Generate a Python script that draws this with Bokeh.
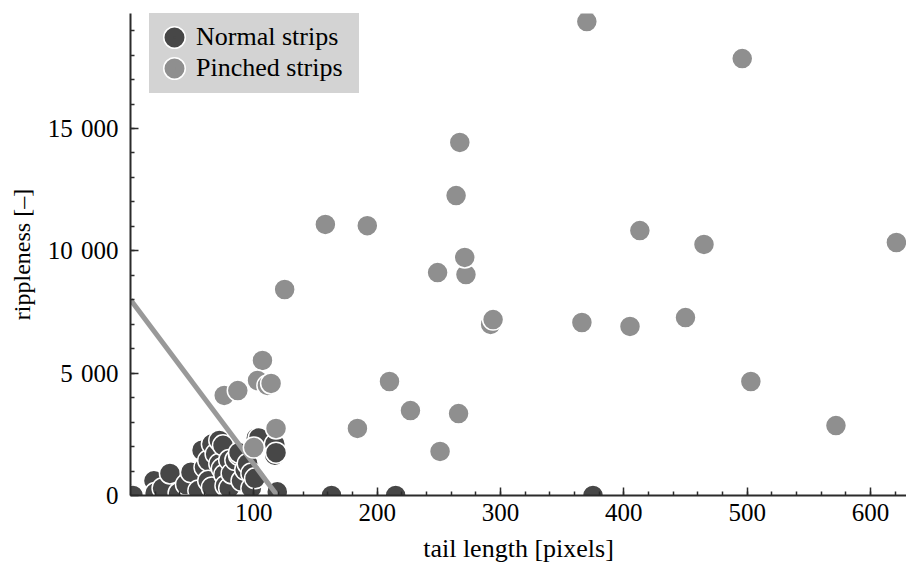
import numpy as np
from bokeh.plotting import figure
from bokeh.models import (ColumnDataSource, Range1d, FixedTicker, CustomJSTickFormatter,
                          Legend, LegendItem)
from bokeh.embed import file_html
from bokeh.resources import INLINE

# ---- data ----
normal_x = [0, 2, 19, 20, 26, 32, 39, 45, 49, 55, 58, 60, 63, 63, 66, 66, 69, 72, 72, 74,
            75, 76, 77, 80, 80, 82, 85, 88, 88, 90, 93, 95, 98, 98, 101, 102, 104, 117,
            117, 118, 119, 163, 215, 375]
normal_y = [50, 0, 600, 100, 300, 900, 100, 450, 950, 200, 1850, 1150, 1430, 600, 2100, 330,
            1700, 2250, 1300, 1100, 2050, 850, 400, 1450, 300, 900, 1450, 1650, 1750, 600,
            1050, 1300, 900, 300, 700, 2350, 2350, 2100, 1650, 1750, 150, 0, 0, 0]

pinched_x = [370, 496, 267, 264, 158, 192, 413, 465, 621, 272, 271, 249, 125, 292, 294,
             366, 405, 450, 210, 503, 184, 227, 266, 251, 572,
             76, 87, 107, 103, 111, 114, 118, 100]
pinched_y = [19370, 17860, 14430, 12260, 11080, 11030, 10830, 10260, 10340, 9030, 9730, 9110,
             8420, 6990, 7190, 7070, 6910, 7270, 4660, 4660, 2740, 3470, 3350, 1800, 2860,
             4090, 4290, 5520, 4700, 4500, 4580, 2740, 1960]

line_x = [0, 119]
line_y = [8000, 0]

x_major = [100, 200, 300, 400, 500, 600]
x_minor = [v for v in range(20, 640, 20)]
y_major = [0, 5000, 10000, 15000]
y_minor = [v for v in range(1000, 20000, 1000)]

dark = "#474747"
light = "#8f8f8f"
line_col = "#999999"
FONT = "Liberation Serif"

p = figure(width=906, height=577, output_backend="svg", toolbar_location=None,
           x_range=Range1d(0, 629.2), y_range=Range1d(0, 19700),
           min_border_left=130, min_border_right=0, min_border_top=13, min_border_bottom=82)
p.outline_line_color = None
p.xgrid.visible = False
p.ygrid.visible = False
p.background_fill_color = "white"
p.border_fill_color = "white"

src_n = ColumnDataSource(dict(x=normal_x, y=normal_y))
src_p = ColumnDataSource(dict(x=pinched_x, y=pinched_y))

r_n = p.scatter("x", "y", source=src_n, size=21, fill_color=dark, line_color="white",
                line_width=1.5)
p.line(line_x, line_y, line_color=line_col, line_width=5)
r_p = p.scatter("x", "y", source=src_p, size=21, fill_color=light, line_color="white",
                line_width=1.5)

# legend-only swatches (not drawn in the plot: NaN positions), sized like the reference
nan_src = ColumnDataSource(dict(x=np.array([np.nan]), y=np.array([np.nan])))
ring_n = p.scatter("x", "y", source=nan_src, fill_color="white", line_color="white", line_width=11.8)
core_n = p.scatter("x", "y", source=nan_src, fill_color=dark, line_color=dark, line_width=8.8)
ring_p = p.scatter("x", "y", source=nan_src, fill_color="white", line_color="white", line_width=11.8)
core_p = p.scatter("x", "y", source=nan_src, fill_color=light, line_color=light, line_width=8.8)

fmt = CustomJSTickFormatter(code="return tick.toFixed(0).replace(/\\B(?=(\\d{3})+(?!\\d))/g, '\\u2004');")

for ax in (p.xaxis[0], p.yaxis[0]):
    ax.axis_line_color = "#2b2b2b"
    ax.axis_line_width = 2
    ax.major_tick_line_color = "#2b2b2b"
    ax.minor_tick_line_color = "#2b2b2b"
    ax.major_tick_line_width = 1.5
    ax.minor_tick_line_width = 1.5
    ax.major_tick_in = 8
    ax.major_tick_out = 0
    ax.minor_tick_in = 4
    ax.minor_tick_out = 0
    ax.major_label_text_font = FONT
    ax.major_label_text_font_size = "25px"
    ax.major_label_text_color = "black"
    ax.axis_label_text_font = FONT
    ax.axis_label_text_font_style = "normal"
    ax.axis_label_text_color = "black"
    ax.formatter = fmt

p.xaxis.ticker = FixedTicker(ticks=x_major, minor_ticks=x_minor)
p.yaxis.ticker = FixedTicker(ticks=y_major, minor_ticks=y_minor)
p.xaxis.axis_label = "tail length [pixels]"
p.yaxis.axis_label = "rippleness [\u2013]"
p.xaxis.axis_label_text_font_size = "26px"
p.yaxis.axis_label_text_font_size = "24px"
p.xaxis.major_label_standoff = 8
p.yaxis.major_label_standoff = 12
p.xaxis.axis_label_standoff = 10
p.yaxis.axis_label_standoff = 10

legend = Legend(items=[LegendItem(label="Normal strips", renderers=[ring_n, core_n]),
                       LegendItem(label="Pinched strips", renderers=[ring_p, core_p])],
                location=(19, 402),
                glyph_width=30, glyph_height=28, padding=9, spacing=1,
                label_standoff=7, label_width=153, label_height=30,
                background_fill_color="#d3d3d3", background_fill_alpha=1.0,
                border_line_color="#d3d3d3", border_line_width=1,
                label_text_font=FONT, label_text_font_size="26px", label_text_color="black")
p.add_layout(legend)

open("out.html", "w").write(file_html(p, INLINE))
